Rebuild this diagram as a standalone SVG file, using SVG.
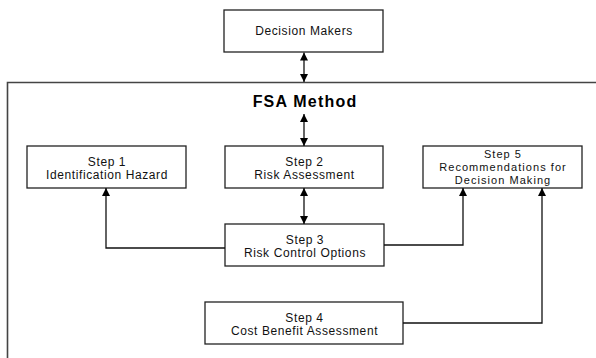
<svg xmlns="http://www.w3.org/2000/svg" width="596" height="358" viewBox="0 0 596 358">
  <style>
    .box { fill: #ffffff; stroke: #222222; stroke-width: 1.3; }
    .frame { fill: none; stroke: #444444; stroke-width: 1.6; }
    .lbl { font-family: "Liberation Sans", Arial, sans-serif; font-size: 12px; fill: #111111; text-anchor: middle; letter-spacing: 0.6px; }
    .lbl3 { font-size: 11px; letter-spacing: 1.05px; }
    .title { font-family: "Liberation Sans", Arial, sans-serif; font-size: 16px; font-weight: bold; fill: #000000; text-anchor: middle; letter-spacing: 1.2px; }
    .conn { fill: none; stroke: #111111; stroke-width: 1.3; }
  </style>
  <defs>
    <marker id="ah" viewBox="0 0 10 10" refX="10" refY="5" markerWidth="8" markerHeight="8" markerUnits="userSpaceOnUse" orient="auto-start-reverse">
      <path d="M0,0 L10,5 L0,10 Z" fill="#000000"/>
    </marker>
  </defs>
  <rect width="596" height="358" fill="#ffffff"/>

  <g id="fsa-frame">
    <path class="frame" d="M7.5,362 V82.5 H600"/>
    <text class="title" x="305" y="107">FSA Method</text>
  </g>

  <g id="decision-makers">
    <rect class="box" x="224" y="10" width="159" height="42"/>
    <text class="lbl" x="304" y="35">Decision Makers</text>
  </g>

  <g id="step1">
    <rect class="box" x="27" y="146" width="159" height="42"/>
    <text class="lbl" x="107" y="165.5">Step 1</text>
    <text class="lbl" x="107" y="178.5">Identification Hazard</text>
  </g>

  <g id="step2">
    <rect class="box" x="225" y="146" width="158" height="42"/>
    <text class="lbl" x="304.5" y="165.5">Step 2</text>
    <text class="lbl" x="304.5" y="178.5">Risk Assessment</text>
  </g>

  <g id="step5">
    <rect class="box" x="423" y="146" width="159" height="42"/>
    <text class="lbl lbl3" x="503" y="158">Step 5</text>
    <text class="lbl lbl3" x="503" y="171">Recommendations for</text>
    <text class="lbl lbl3" x="503" y="184">Decision Making</text>
  </g>

  <g id="step3">
    <rect class="box" x="225" y="224" width="159" height="42"/>
    <text class="lbl" x="305" y="243.5">Step 3</text>
    <text class="lbl" x="305" y="256.5">Risk Control Options</text>
  </g>

  <g id="step4">
    <rect class="box" x="205" y="302" width="198" height="42"/>
    <text class="lbl" x="304.5" y="321.5">Step 4</text>
    <text class="lbl" x="304.5" y="334.5">Cost Benefit Assessment</text>
  </g>

  <g id="connectors">
    <path class="conn" d="M304,52.5 V82" marker-start="url(#ah)" marker-end="url(#ah)"/>
    <path class="conn" d="M304,114 V146" marker-start="url(#ah)" marker-end="url(#ah)"/>
    <path class="conn" d="M304,188 V224" marker-start="url(#ah)" marker-end="url(#ah)"/>
    <path class="conn" d="M225,248 H106 V188" marker-end="url(#ah)"/>
    <path class="conn" d="M384,245 H463 V188" marker-end="url(#ah)"/>
    <path class="conn" d="M403,323 H542 V188" marker-end="url(#ah)"/>
  </g>
</svg>
